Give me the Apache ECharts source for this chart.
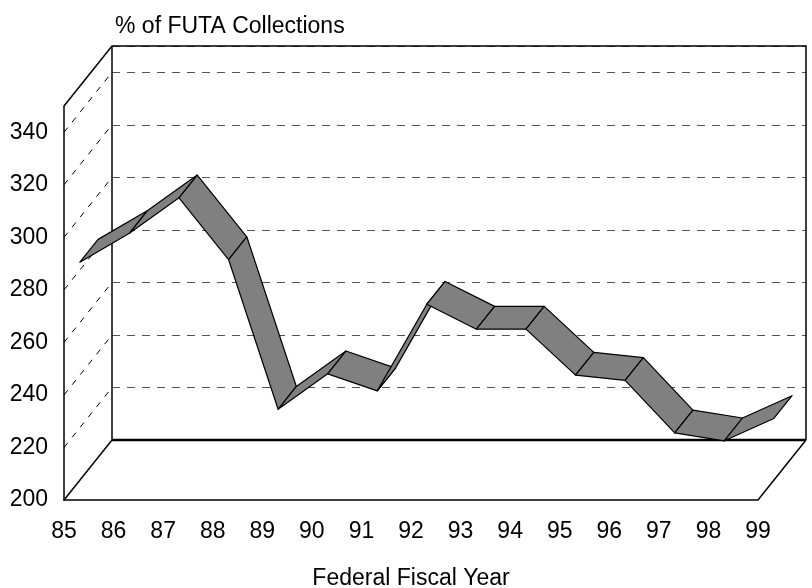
<!DOCTYPE html>
<html>
<head>
<meta charset="utf-8">
<script src="https://cdn.jsdelivr.net/npm/echarts@6/dist/echarts.min.js"></script>
<style>
html, body { margin: 0; padding: 0; background: #fff; }
#main { width: 812px; height: 588px; }
</style>
</head>
<body>
<div id="main"></div>
<script>
'use strict';

let years = ['85', '86', '87', '88', '89', '90', '91', '92', '93', '94', '95', '96', '97', '98', '99'];
let futaPct = [283, 294, 307.5, 284, 227, 240.5, 234, 267, 257.5, 257.5, 240, 238, 218, 215, 223.5];
let yTicks = [220, 240, 260, 280, 300, 320, 340];
let yMin = 200;
let yMax = 350;

// depth of the 3d box, and where the ribbon sits inside it
let depth = [48, -60];
let ribbonNear = 0.33;
let ribbonFar = 0.71;

let font = 'Liberation Sans, Arial, sans-serif';

let myChart = echarts.init(document.getElementById('main'));

function shift(p, f) {
	return [p[0] + depth[0] * f, p[1] + depth[1] * f];
}

let option = {
	animation: false,
	title: {
		text: '% of FUTA Collections',
		left: 110,
		top: 10,
		textStyle: {
			fontFamily: font,
			fontSize: 23,
			fontWeight: 'normal',
			color: '#000'
		}
	},
	grid: [{
		left: 64,
		right: 54,
		top: 106,
		bottom: 88,
		outerBoundsMode: 'none',
		containLabel: false
	}, {
		left: 112,
		right: 6,
		top: 46,
		bottom: 148,
		outerBoundsMode: 'none',
		containLabel: false
	}],
	xAxis: [{
		type: 'category',
		gridIndex: 0,
		data: years,
		boundaryGap: false,
		name: 'Federal Fiscal Year',
		nameLocation: 'middle',
		nameGap: 67,
		nameTextStyle: {
			fontFamily: font,
			fontSize: 23,
			color: '#000'
		},
		axisLine: { lineStyle: { color: '#000', width: 1.5 } },
		axisTick: { show: false },
		axisLabel: {
			fontFamily: font,
			fontSize: 23,
			color: '#000',
			margin: 20
		}
	}, {
		type: 'category',
		gridIndex: 1,
		data: years,
		boundaryGap: false,
		axisLine: { show: false },
		axisTick: { show: false },
		axisLabel: { show: false }
	}],
	yAxis: [{
		type: 'value',
		gridIndex: 0,
		min: yMin,
		max: yMax,
		interval: 20,
		axisLine: { show: true, lineStyle: { color: '#000', width: 1.5 } },
		axisTick: { show: false },
		splitLine: { show: false },
		axisLabel: {
			fontFamily: font,
			fontSize: 23,
			color: '#000',
			margin: 16,
			showMaxLabel: false
		}
	}, {
		type: 'value',
		gridIndex: 1,
		min: yMin,
		max: yMax,
		interval: 20,
		axisLine: { show: false },
		axisTick: { show: false },
		axisLabel: { show: false },
		splitLine: {
			show: true,
			lineStyle: { color: '#555', width: 1, type: [8, 7] }
		}
	}],
	series: [{
		// dashed lines on the left side wall
		type: 'custom',
		xAxisIndex: 0,
		yAxisIndex: 0,
		silent: true,
		z: 3,
		data: yTicks.map(v => [0, v]),
		renderItem: function (params, api) {
			let p = api.coord([0, api.value(1)]);
			let q = shift(p, 1);
			return {
				type: 'line',
				shape: { x1: p[0], y1: p[1], x2: q[0], y2: q[1] },
				style: { stroke: '#000', lineWidth: 1, lineDash: [6, 7] }
			};
		}
	}, {
		// box frame: side wall top, back wall outline, floor
		type: 'custom',
		xAxisIndex: 0,
		yAxisIndex: 0,
		silent: true,
		z: 4,
		data: [[0, yMin]],
		renderItem: function (params, api) {
			let last = years.length - 1;
			let a = api.coord([0, yMin]);
			let b = api.coord([last, yMin]);
			let t = api.coord([0, yMax]);
			let c = api.coord([last, yMax]);
			let st = { stroke: '#000', lineWidth: 1.5, fill: null };
			return {
				type: 'group',
				children: [{
					type: 'polyline',
					shape: { points: [t, shift(t, 1), shift(c, 1), shift(b, 1)] },
					style: st
				}, {
					type: 'line',
					shape: { x1: shift(a, 1)[0], y1: shift(a, 1)[1], x2: shift(t, 1)[0], y2: shift(t, 1)[1] },
					style: st
				}, {
					type: 'line',
					shape: { x1: shift(a, 1)[0], y1: shift(a, 1)[1], x2: shift(b, 1)[0], y2: shift(b, 1)[1] },
					style: { stroke: '#000', lineWidth: 2.5 }
				}, {
					type: 'line',
					shape: { x1: a[0], y1: a[1], x2: shift(a, 1)[0], y2: shift(a, 1)[1] },
					style: st
				}, {
					type: 'line',
					shape: { x1: b[0], y1: b[1], x2: shift(b, 1)[0], y2: shift(b, 1)[1] },
					style: st
				}]
			};
		}
	}, {
		// the ribbon, one quad per segment
		name: '% of FUTA Collections',
		type: 'custom',
		xAxisIndex: 0,
		yAxisIndex: 0,
		z: 10,
		data: futaPct.map((v, i) => [i, v]),
		renderItem: function (params, api) {
			let i = api.value(0);
			if (i >= futaPct.length - 1) {
				return null;
			}
			let p0 = api.coord([i, api.value(1)]);
			let p1 = api.coord([i + 1, futaPct[i + 1]]);
			return {
				type: 'polygon',
				shape: {
					points: [shift(p0, ribbonNear), shift(p1, ribbonNear), shift(p1, ribbonFar), shift(p0, ribbonFar)]
				},
				style: { fill: '#808080', stroke: '#000', lineWidth: 1.2, lineJoin: 'round' }
			};
		}
	}]
};
myChart.setOption(option);
</script>
</body>
</html>
